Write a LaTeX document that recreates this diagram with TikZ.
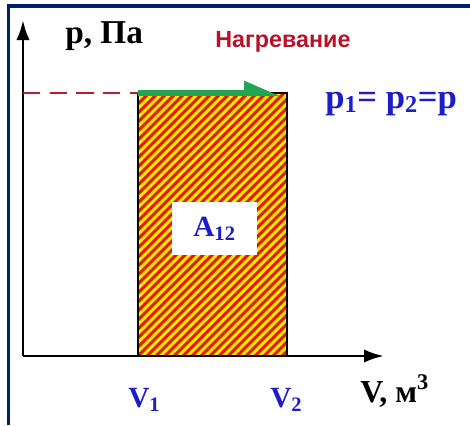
\documentclass[tikz,border=0pt]{standalone}
\usepackage{fontspec}
\setmainfont{Liberation Serif}
\newfontfamily\labelsans{Liberation Sans}
\usetikzlibrary{arrows.meta}
\definecolor{framenavy}{RGB}{0,32,110}
\definecolor{lblblue}{RGB}{28,28,200}
\definecolor{lblred}{RGB}{185,18,40}
\definecolor{isogreen}{RGB}{34,165,80}
\definecolor{hatchyellow}{RGB}{255,232,0}
\definecolor{hatchred}{RGB}{222,28,0}
\definecolor{dashred}{RGB}{185,30,40}
\tikzset{
axis/.style={line width=2.2pt, -{Latex[length=15pt,width=10pt]}},
blulbl/.style={text=lblblue, font=\fontsize{22}{22}\selectfont\bfseries, inner sep=0pt},
blklbl/.style={text=black, font=\fontsize{24}{24}\selectfont\bfseries, inner sep=0pt},
stripe/.style={hatchred, line width=2.3pt}
}

\begin{document}
\begin{tikzpicture}[x=0.75pt, y=-0.75pt]
\useasboundingbox (0,0) rectangle (470,425);
% frame
\fill[framenavy] (7,4) rectangle (470,7.5);
\fill[framenavy] (7,4) rectangle (10,425);

\coordinate (O) at (23,356);
\coordinate (ytip) at (23,20);
\coordinate (xtip) at (384,356);
\coordinate (r1) at (138,93);
\coordinate (r2) at (287,356);
\coordinate (r3) at (287,93);
\coordinate (yp) at (23,93);

% work area
\fill[hatchyellow] (r1) rectangle (r2);
\begin{scope}
\clip (r1) rectangle (r2);
\foreach \s in {-270,-261,...,290}
  \draw[stripe] (138+\s,356) -- ++(263,-263);
\end{scope}
\draw[black, line width=2.2pt] (r1) rectangle (r2);

\node[fill=white, minimum width=64pt, minimum height=40pt, inner sep=0pt]
  (area) at (214.5,228.5) {};
\node[blulbl] at (area.center) {A\textsubscript{12}};

% axes
\draw[axis] (O) -- (ytip);
\draw[axis] (O) -- (xtip);

\draw[dashred, line width=1.6pt, dash pattern=on 13pt off 7pt] (yp) -- (r1);
\draw[isogreen, line width=4.8pt, -{Triangle[harpoon, length=22pt, width=17pt]}]
  (r1) -- ([xshift=-4]r3);

% labels
\node[blklbl, anchor=base west, font=\fontsize{25}{25}\selectfont\bfseries]
  (plbl) at (65,43) {p, Па};
\node[text=lblred, anchor=base west, inner sep=0pt,
  font=\labelsans\fontsize{17.5}{17.5}\selectfont\bfseries]
  (heat) at (215,47) {Нагревание};
\node[blulbl, anchor=base west, font=\fontsize{26}{26}\selectfont\bfseries]
  (peq) at (325,108) {p\textsubscript{1}= p\textsubscript{2}=p};
\node[blulbl, anchor=base west] (v1) at (128,407) {V\textsubscript{1}};
\node[blulbl, anchor=base west] (v2) at (270,407) {V\textsubscript{2}};
\node[blklbl, anchor=base west] (vlbl) at (360,402) {V, м\textsuperscript{3}};
\end{tikzpicture}
\end{document}
